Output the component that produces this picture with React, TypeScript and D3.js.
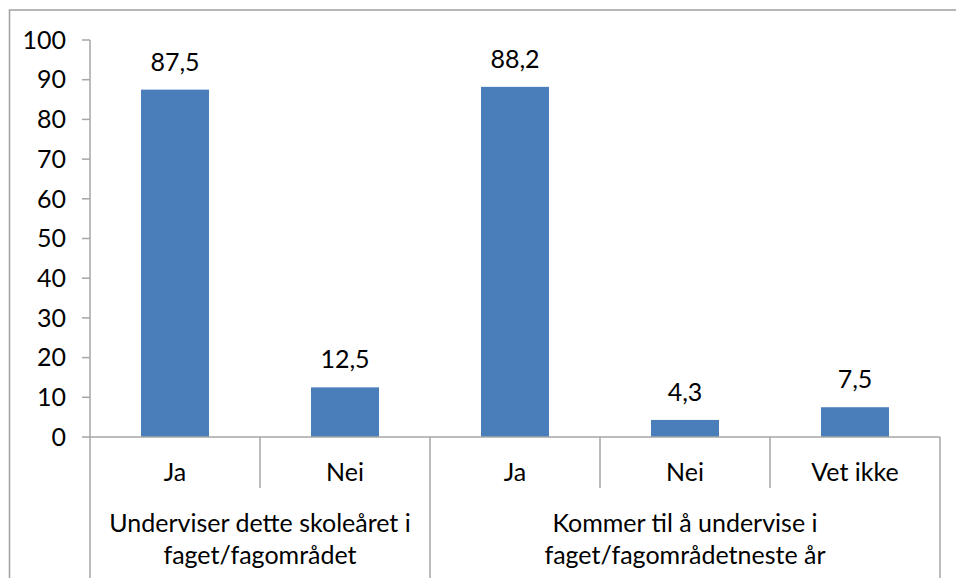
import React from "react";
import * as d3 from "d3";

const categories = ["Ja", "Nei", "Ja", "Nei", "Vet ikke"];
const categoryGroup = [0, 0, 1, 1, 1];
const values = [87.5, 12.5, 88.2, 4.3, 7.5];
const groupLines = [
  ["Underviser dette skoleåret i", "faget/fagområdet"],
  ["Kommer til å undervise i", "faget/fagområdetneste år"],
];
const yTicks = [0, 10, 20, 30, 40, 50, 60, 70, 80, 90, 100];

const W = 956;
const H = 578;
const FONT = "Lato, 'Open Sans', sans-serif";
const FS = 25;
const AXIS = "#a6a6a6";
const BAR = "#4a7ebb";

export default function App() {
  const plotLeft = 90;
  const plotRight = 940;
  const y = d3.scaleLinear().domain([0, 100]).range([437, 40]);
  const x = d3
    .scaleBand<number>()
    .domain(categories.map((_, i) => i))
    .range([plotLeft, plotRight])
    .paddingInner(0.6)
    .paddingOuter(0.3);
  const step = x.step();
  const fmt = (v: number) => d3.format(".1f")(v).replace(".", ",");
  const y0 = y(0);

  const boundaries = d3.range(categories.length + 1).map((i) => {
    const xb = plotLeft + i * step;
    const isGroupEdge =
      i === 0 ||
      i === categories.length ||
      categoryGroup[i] !== categoryGroup[i - 1];
    return { xb, isGroupEdge };
  });

  const groupIdx = Array.from(new Set(categoryGroup));
  const groupSpans = groupIdx.map((g) => {
    const idxs = categories.map((_, i) => i).filter((i) => categoryGroup[i] === g);
    const x1 = plotLeft + d3.min(idxs)! * step;
    const x2 = plotLeft + (d3.max(idxs)! + 1) * step;
    return { g, cx: (x1 + x2) / 2 };
  });

  return (
    <svg
      width={W}
      height={H}
      style={{ position: "absolute", left: 0, top: 0, background: "#fff" }}
      fontFamily={FONT}
    >
      <rect x={9.5} y={10} width={W + 10} height={H + 10} fill="#fff" stroke="#a0a0a0" strokeWidth={1.5} />

      {values.map((v, i) => (
        <rect key={i} x={x(i)} y={y(v)} width={x.bandwidth()} height={y0 - y(v)} fill={BAR} />
      ))}

      {values.map((v, i) => (
        <text
          key={"l" + i}
          x={x(i)! + x.bandwidth() / 2}
          y={y(v) - 19}
          textAnchor="middle"
          fontSize={FS}
          fill="#000"
        >
          {fmt(v)}
        </text>
      ))}

      <line x1={plotLeft} x2={plotLeft} y1={y(100)} y2={y0} stroke={AXIS} strokeWidth={1.5} />
      {yTicks.map((t) => (
        <g key={t}>
          <line x1={plotLeft - 8} x2={plotLeft} y1={y(t)} y2={y(t)} stroke={AXIS} strokeWidth={1.5} />
          <text x={66} y={y(t)} dy="0.35em" textAnchor="end" fontSize={FS} fill="#000">
            {t}
          </text>
        </g>
      ))}

      <line x1={plotLeft} x2={plotRight} y1={y0} y2={y0} stroke={AXIS} strokeWidth={1.5} />
      {boundaries.map((b, i) => (
        <line
          key={"b" + i}
          x1={b.xb}
          x2={b.xb}
          y1={y0}
          y2={b.isGroupEdge ? H + 5 : 488}
          stroke={AXIS}
          strokeWidth={1.5}
        />
      ))}

      {categories.map((c, i) => (
        <text
          key={"c" + i}
          x={x(i)! + x.bandwidth() / 2}
          y={481}
          textAnchor="middle"
          fontSize={FS}
          fill="#000"
        >
          {c}
        </text>
      ))}

      {groupSpans.map((s) => (
        <text key={"g" + s.g} x={s.cx} y={532} textAnchor="middle" fontSize={FS} fill="#000">
          {groupLines[s.g].map((ln, j) => (
            <tspan key={j} x={s.cx} dy={j === 0 ? 0 : 31.5}>
              {ln}
            </tspan>
          ))}
        </text>
      ))}
    </svg>
  );
}
